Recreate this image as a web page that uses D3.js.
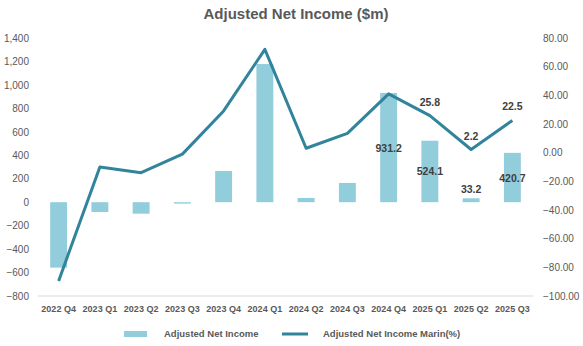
<!DOCTYPE html>
<html>
<head>
<meta charset="utf-8">
<script src="https://cdn.jsdelivr.net/npm/d3@7"></script>
<style>
  body { margin: 0; background: #fff; }
  text { font-family: "Liberation Sans", Arial, sans-serif; }
</style>
</head>
<body>
<svg id="svg" width="583" height="346"></svg>
<script>
const quarters = ['2022 Q4', '2023 Q1', '2023 Q2', '2023 Q3', '2023 Q4', '2024 Q1',
  '2024 Q2', '2024 Q3', '2024 Q4', '2025 Q1', '2025 Q2', '2025 Q3']
const netIncome = [-558, -84, -98, -12, 266, 1178, 36, 164, 931.2, 524.1, 33.2, 420.7]
const margin = [-89.5, -10, -14, -1, 29.1, 72.1, 3.1, 13.5, 41.0, 25.8, 2.2, 22.5]
// which points get a label in the picture (last four quarters)
const incomeLabels = [null, null, null, null, null, null, null, null, '931.2', '524.1', '33.2', '420.7']
const marginLabels = [null, null, null, null, null, null, null, null, null, '25.8', '2.2', '22.5']

const leftTicks = d3.range(-800, 1401, 200)
const rightTicks = d3.range(-100, 81, 20)

const barColour = '#92cddc'
const lineColour = '#31849b'
const textColour = '#595959'

const svg = d3.select('#svg')

const xScale = d3.scaleBand()
  .domain(quarters)
  .range([38, 533])

const yLeft = d3.scaleLinear()
  .domain([-800, 1400])
  .range([296, 38])

const yRight = d3.scaleLinear()
  .domain([-100, 80])
  .range([296, 38])

const cx = i => xScale(quarters[i]) + xScale.bandwidth() / 2

// title
svg.append('text')
  .attr('x', 296)
  .attr('y', 19)
  .attr('text-anchor', 'middle')
  .attr('font-size', 15)
  .attr('font-weight', 'bold')
  .attr('fill', textColour)
  .text('Adjusted Net Income ($m)')

// left axis
const leftAxis = svg.append('g')
  .attr('transform', 'translate(36,0)')
  .call(d3.axisLeft(yLeft).tickValues(leftTicks).tickSize(0).tickPadding(7)
    .tickFormat(d3.format(',')))
leftAxis.select('.domain').remove()
leftAxis.selectAll('text')
  .attr('font-size', 10)
  .attr('font-family', '"Liberation Sans", Arial, sans-serif')
  .attr('fill', textColour)

// right axis
const rightAxis = svg.append('g')
  .attr('transform', 'translate(536,0)')
  .call(d3.axisRight(yRight).tickValues(rightTicks).tickSize(0).tickPadding(7)
    .tickFormat(d3.format('.2f')))
rightAxis.select('.domain').remove()
rightAxis.selectAll('text')
  .attr('font-size', 10)
  .attr('font-family', '"Liberation Sans", Arial, sans-serif')
  .attr('fill', textColour)

// bottom line + category labels
svg.append('line')
  .attr('x1', 38).attr('x2', 533)
  .attr('y1', yLeft(-800)).attr('y2', yLeft(-800))
  .attr('stroke', '#d9d9d9')
  .attr('stroke-width', 1)

const xAxis = svg.append('g')
  .attr('transform', 'translate(0,296)')
  .call(d3.axisBottom(xScale).tickSize(0).tickPadding(10))
xAxis.select('.domain').remove()
xAxis.selectAll('text')
  .attr('font-size', 9)
  .attr('font-weight', 'bold')
  .attr('font-family', '"Liberation Sans", Arial, sans-serif')
  .attr('fill', textColour)

// bars
const barWidth = xScale.bandwidth() * 0.41
svg.selectAll('rect.bar')
  .data(netIncome)
  .enter()
  .append('rect')
  .attr('class', 'bar')
  .attr('x', (d, i) => xScale(quarters[i]) + (xScale.bandwidth() - barWidth) / 2)
  .attr('y', d => yLeft(Math.max(0, d)))
  .attr('width', barWidth)
  .attr('height', d => Math.abs(yLeft(d) - yLeft(0)))
  .attr('fill', barColour)

// line
const line = d3.line()
  .x((d, i) => cx(i))
  .y(d => yRight(d))

svg.append('path')
  .datum(margin)
  .attr('d', line)
  .attr('fill', 'none')
  .attr('stroke', lineColour)
  .attr('stroke-width', 3)
  .attr('stroke-linejoin', 'round')

// bar labels
netIncome.forEach((d, i) => {
  if (incomeLabels[i] === null) return
  const mid = (yLeft(d) + yLeft(0)) / 2
  svg.append('text')
    .attr('x', cx(i))
    .attr('y', d < 100 ? yLeft(d) - 5 : mid + 4)
    .attr('text-anchor', 'middle')
    .attr('font-size', 10.5)
    .attr('font-weight', 'bold')
    .attr('fill', '#404040')
    .text(incomeLabels[i])
})

// line labels
margin.forEach((d, i) => {
  if (marginLabels[i] === null) return
  svg.append('text')
    .attr('x', cx(i))
    .attr('y', yRight(d) - 10)
    .attr('text-anchor', 'middle')
    .attr('font-size', 10.5)
    .attr('font-weight', 'bold')
    .attr('fill', '#404040')
    .text(marginLabels[i])
})

// legend
const legend = svg.append('g')
legend.append('rect')
  .attr('x', 124).attr('y', 331)
  .attr('width', 23).attr('height', 6)
  .attr('fill', barColour)
legend.append('text')
  .attr('x', 164).attr('y', 337)
  .attr('font-size', 9.5)
  .attr('font-weight', 'bold')
  .attr('fill', textColour)
  .text('Adjusted Net Income')
legend.append('line')
  .attr('x1', 282).attr('x2', 308)
  .attr('y1', 334).attr('y2', 334)
  .attr('stroke', lineColour)
  .attr('stroke-width', 3)
legend.append('text')
  .attr('x', 323).attr('y', 337)
  .attr('font-size', 9.5)
  .attr('font-weight', 'bold')
  .attr('fill', textColour)
  .text('Adjusted Net Income Marin(%)')
</script>
</body>
</html>
